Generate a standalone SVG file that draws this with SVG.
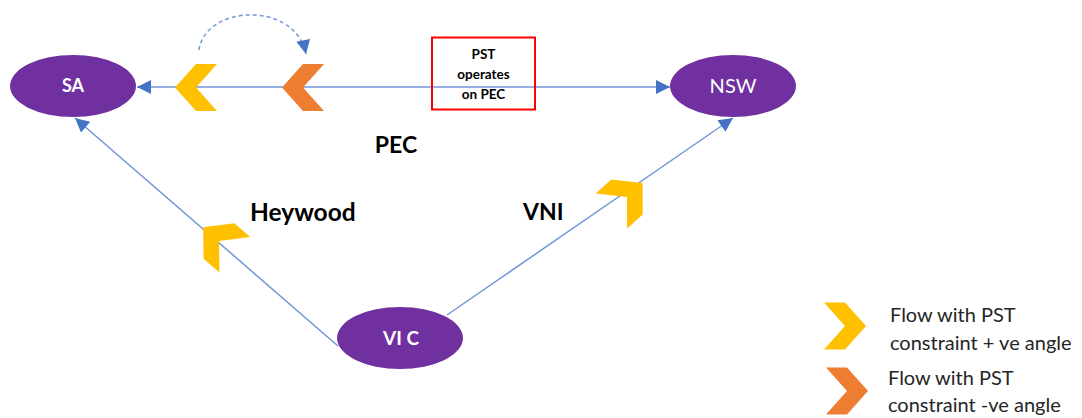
<svg xmlns="http://www.w3.org/2000/svg" width="1082" height="418" viewBox="0 0 1082 418">
<style>
.node{fill:#7030A0}
.ntxt{fill:#fff;font-family:Lato,"Liberation Sans",sans-serif;font-size:18px;text-anchor:middle}
.lbl{fill:#000;font-family:Lato,"Liberation Sans",sans-serif;font-weight:bold;font-size:23px}
.box{font-family:Lato,"Liberation Sans",sans-serif;font-weight:bold;font-size:13.5px;text-anchor:middle;fill:#000}
.leg{font-family:Lato,"Liberation Sans",sans-serif;font-size:20px;fill:#262626}
.conn{stroke:#7196D8;stroke-width:1.5;fill:none}
.yel{fill:#FFC000}
.org{fill:#ED7D31}
</style>
<defs>
<marker id="ah" viewBox="0 0 10 10" refX="10" refY="5" markerWidth="15" markerHeight="14" markerUnits="userSpaceOnUse" orient="auto-start-reverse">
<path d="M0,0 L10,5 L0,10 z" fill="#4472C4"/>
</marker>
<polygon id="chevL" points="-21,0 0,-23.5 21,-23.5 0,0 21,23.5 0,23.5"/>
<polygon id="chevR" points="21,0 0,-23.5 -21,-23.5 0,0 -21,23.5 0,23.5"/>
</defs>
<g id="connectors">
<line class="conn" x1="137" y1="87" x2="670" y2="87" marker-start="url(#ah)" marker-end="url(#ah)"/>
<line class="conn" x1="338" y1="346" x2="75" y2="118" marker-end="url(#ah)"/>
<line class="conn" x1="447" y1="315" x2="733" y2="118" marker-end="url(#ah)"/>
<path class="conn" d="M199,50 C205,5 295,0 306,54" stroke-dasharray="4,3" marker-end="url(#ah)"/>
</g>
<g id="chevrons">
<use href="#chevL" class="yel" transform="translate(196,87.5)"/>
<use href="#chevL" class="org" transform="translate(303,87.5)"/>
<use href="#chevL" class="yel" transform="translate(219,241) rotate(41)"/>
<use href="#chevR" class="yel" transform="translate(627,197) rotate(-42)"/>
</g>
<g id="SA">
<ellipse class="node" cx="73" cy="86" rx="63" ry="31"/>
<text class="ntxt" x="73" y="92" style="font-weight:bold">SA</text>
</g>
<g id="NSW">
<ellipse class="node" cx="733" cy="86" rx="63" ry="31"/>
<text class="ntxt" x="733" y="93" style="font-size:20px">NSW</text>
</g>
<g id="VIC">
<ellipse class="node" cx="400" cy="338" rx="63" ry="31"/>
<text class="ntxt" x="401" y="345" style="font-weight:bold;font-size:19px">VI C</text>
</g>
<g id="pst-box">
<rect x="432" y="37.5" width="103" height="72" fill="none" stroke="#FF0000" stroke-width="2"/>
<text class="box" x="483.5" y="59">PST</text>
<text class="box" x="483.5" y="79">operates</text>
<text class="box" x="483.5" y="99">on PEC</text>
</g>
<g id="labels">
<text class="lbl" x="396" y="153" text-anchor="middle">PEC</text>
<text class="lbl" x="250" y="221" style="font-size:24.5px">Heywood</text>
<text class="lbl" x="523" y="220">VNI</text>
</g>
<g id="legend">
<use href="#chevR" class="yel" transform="translate(845,326)"/>
<text class="leg" x="890" y="322">Flow with PST</text>
<text class="leg" x="890" y="350">constraint + ve angle</text>
<use href="#chevR" class="org" transform="translate(847,391)"/>
<text class="leg" x="888" y="385">Flow with PST</text>
<text class="leg" x="888" y="412">constraint -ve angle</text>
</g>
</svg>
